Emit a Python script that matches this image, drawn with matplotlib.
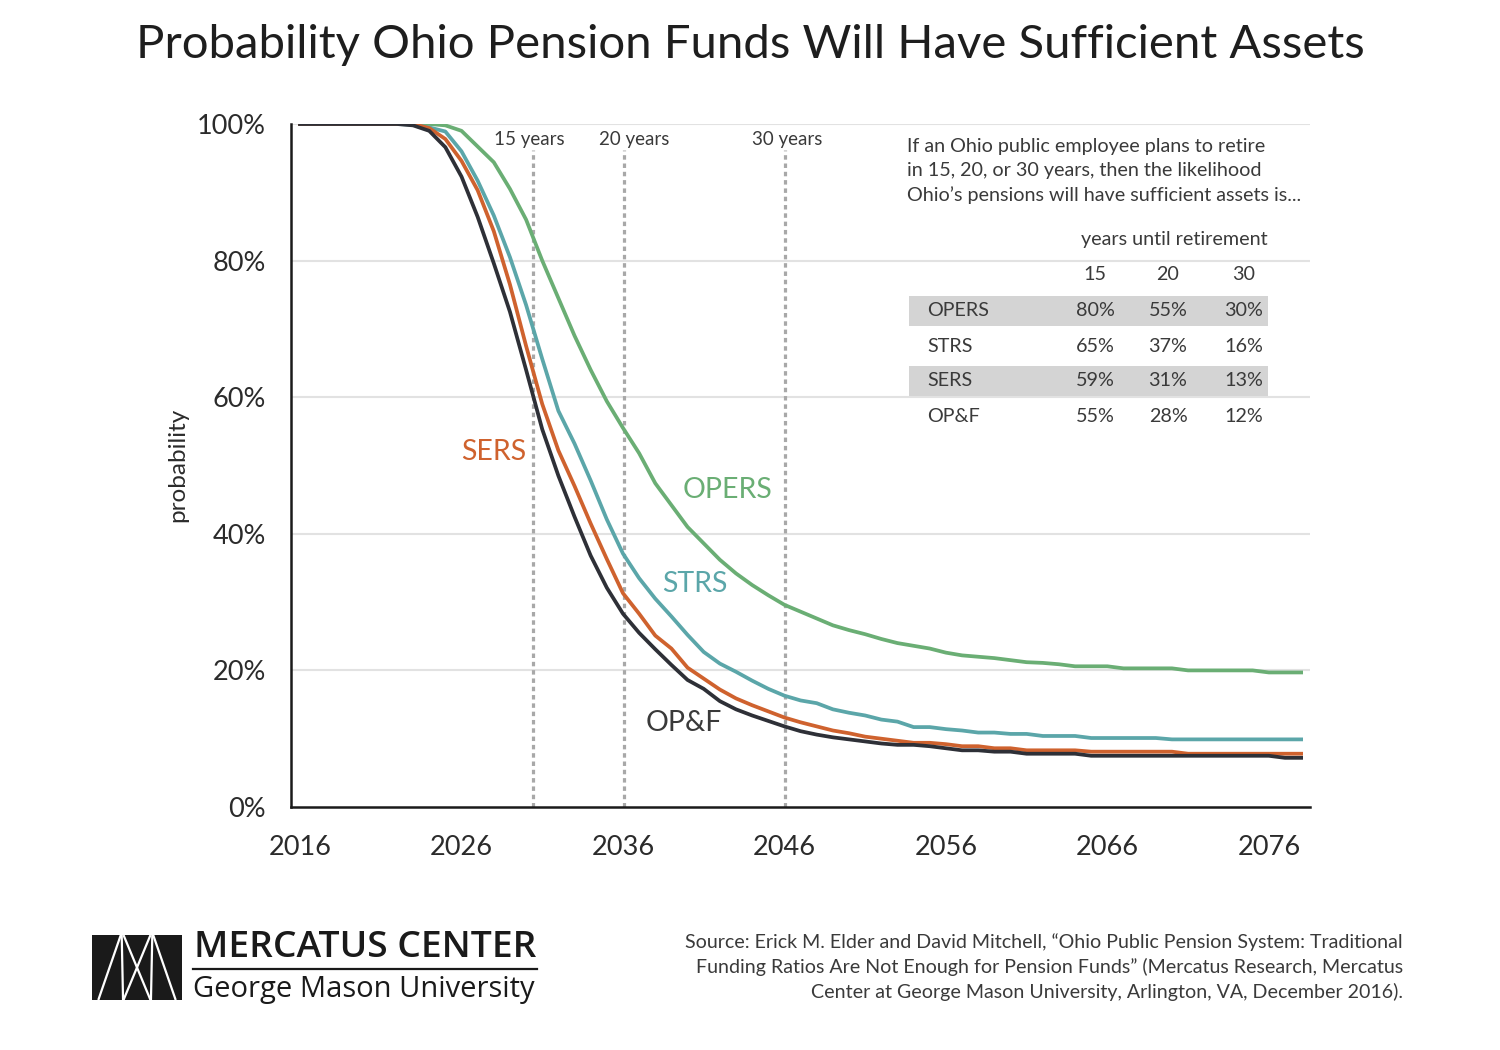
import numpy as np
import matplotlib
matplotlib.use("Agg")
import matplotlib.pyplot as plt
from matplotlib.patches import Rectangle

# ---- data (probability, %) ----
years = np.arange(2016, 2079)

opers = [100] * 9 + [
    99.8, 99.0, 96.7, 94.4, 90.5, 86.0, 80.0, 74.5, 69.0, 64.0,
    59.4, 55.5, 51.8, 47.4, 44.2, 41.0, 38.6, 36.2, 34.2, 32.5,
    31.0, 29.6, 28.6, 27.6, 26.6, 25.9, 25.3, 24.6, 24.0, 23.6,
    23.2, 22.6, 22.2, 22.0, 21.8, 21.5, 21.2, 21.1, 20.9, 20.6,
    20.6, 20.6, 20.3, 20.3, 20.3, 20.3, 20.0, 20.0, 20.0, 20.0,
    20.0, 19.7, 19.7, 19.7,
]
strs = [100] * 7 + [
    99.9, 99.5, 98.9, 96.0, 91.7, 86.6, 80.5, 73.5, 65.6, 58.0,
    53.2, 47.8, 42.1, 37.1, 33.5, 30.5, 27.9, 25.2, 22.7, 21.0,
    19.8, 18.5, 17.3, 16.3, 15.6, 15.2, 14.3, 13.8, 13.4, 12.8,
    12.5, 11.7, 11.7, 11.4, 11.2, 10.9, 10.9, 10.7, 10.7, 10.4,
    10.4, 10.4, 10.1, 10.1, 10.1, 10.1, 10.1, 9.9,
] + [9.9] * 8
sers = [100] * 8 + [
    99.4, 97.8, 94.6, 90.3, 84.3, 76.5, 67.5, 59.0, 52.2, 47.0,
    41.5, 36.3, 31.3, 28.3, 25.1, 23.2, 20.4, 18.8, 17.2, 15.9,
    14.9, 14.0, 13.1, 12.4, 11.8, 11.2, 10.8, 10.3, 10.0, 9.7,
    9.4, 9.4, 9.2, 8.9, 8.9, 8.6, 8.6, 8.3, 8.3, 8.3,
    8.3, 8.1,
] + [8.1] * 5 + [7.8] * 8
opf = [100] * 7 + [
    99.8, 99.0, 96.6, 92.3, 86.4, 79.6, 72.5, 64.0, 55.3, 48.5,
    42.5, 36.8, 32.1, 28.3, 25.5, 23.1, 20.8, 18.6, 17.3, 15.5,
    14.3, 13.4, 12.6, 11.8, 11.1, 10.6, 10.2, 9.9, 9.6, 9.3,
    9.1, 9.1, 8.9, 8.6, 8.3, 8.3, 8.1, 8.1, 7.8, 7.8,
    7.8, 7.8, 7.5,
] + [7.5] * 11 + [7.2, 7.2]

# retirement horizons (dotted markers) and the summary table
horizon_labels = ["15 years", "20 years", "30 years"]
horizon_years = [2030.45, 2036.05, 2046.05]
table_cols = ["15", "20", "30"]
table_rows = ["OPERS", "STRS", "SERS", "OP&F"]
table_15 = [80, 65, 59, 55]
table_20 = [55, 37, 31, 28]
table_30 = [30, 16, 13, 12]

ytick_vals = [0, 20, 40, 60, 80, 100]
xtick_vals = [2016, 2026, 2036, 2046, 2056, 2066, 2076]

GREEN = "#6aae74"
TEAL = "#5ba6a9"
ORANGE = "#cf622e"
DARK = "#2e3037"
TXT = "#2b2b2b"
SOFT = "#3a3a3a"

W, H = 1500, 1050
plt.rcParams["font.family"] = ["Lato", "DejaVu Sans"]


def fx(x):
    return x / W


def fy(y):
    return 1 - y / H


fig = plt.figure(figsize=(15, 10.5), dpi=100)
ax = fig.add_axes([fx(291), fy(807), (1310 - 291) / W, (807 - 124) / H])

ax.set_xlim(2015.44, 2078.55)
ax.set_ylim(0, 100)

for v in ytick_vals[1:]:
    ax.axhline(v, color="#e2e2e2", lw=1.5, zorder=0)

for yr in horizon_years:
    ax.vlines(yr, 0, 96.2, colors="#a8a8a8", lw=2.3,
              linestyles=(0, (1.4, 1.2)), zorder=1)
for lab, yr in zip(horizon_labels, [2030.2, 2036.7, 2046.2]):
    ax.text(yr, 97.7, lab, ha="center", va="center", fontsize=13.5,
            color=SOFT)

ax.plot(years, opers, color=GREEN, lw=2.7, zorder=3)
ax.plot(years, strs, color=TEAL, lw=2.7, zorder=3)
ax.plot(years, sers, color=ORANGE, lw=2.7, zorder=3)
ax.plot(years, opf, color=DARK, lw=2.7, zorder=3)

ax.text(2026.0, 52.0, "SERS", color=ORANGE, fontsize=20.5, va="center")
ax.text(2039.7, 46.4, "OPERS", color=GREEN, fontsize=20.5, va="center")
ax.text(2038.4, 32.6, "STRS", color=TEAL, fontsize=20.5, va="center")
ax.text(2037.4, 12.3, "OP&F", color=SOFT, fontsize=20.5, va="center")

for side in ["top", "right"]:
    ax.spines[side].set_visible(False)
for side in ["left", "bottom"]:
    ax.spines[side].set_linewidth(1.8)
    ax.spines[side].set_color("#1a1a1a")

ax.set_yticks(ytick_vals)
ax.set_yticklabels([f"{v}%" for v in ytick_vals])
ax.set_xticks(xtick_vals)
ax.set_xticklabels([str(v) for v in xtick_vals])
ax.tick_params(length=0, labelsize=19.5, labelcolor=TXT)
ax.tick_params(axis="y", pad=18)
ax.tick_params(axis="x", pad=20)

fig.text(fx(178), fy(465), "probability", rotation=90, ha="center",
         va="center", fontsize=17.5, color=TXT)

fig.text(0.5, fy(45), "Probability Ohio Pension Funds Will Have Sufficient Assets",
         ha="center", va="center", fontsize=34, color="#1e1e1e")

# ---- summary table ----
intro = ("If an Ohio public employee plans to retire\n"
         "in 15, 20, or 30 years, then the likelihood\n"
         "Ohio\u2019s pensions will have sufficient assets is...")
fig.text(fx(907), fy(171), intro, ha="left", va="center", fontsize=14.2,
         color=SOFT, linespacing=1.5)
fig.text(fx(1268), fy(240), "years until retirement", ha="right",
         va="center", fontsize=14.2, color=SOFT)

col_x = [1095, 1168, 1244]
row_y = [311, 346, 381, 416]
for cx, lab in zip(col_x, table_cols):
    fig.text(fx(cx), fy(275), lab, ha="center", va="center",
             fontsize=14.2, color=SOFT)

for i in [0, 2]:
    fig.add_artist(Rectangle((fx(909), fy(row_y[i] + 15)), (1268 - 909) / W,
                             30 / H, transform=fig.transFigure,
                             facecolor="#d4d4d4", edgecolor="none", zorder=1))

for i, name in enumerate(table_rows):
    fig.text(fx(927), fy(row_y[i]), name, ha="left", va="center",
             fontsize=14.2, color=SOFT, zorder=2)
    for cx, vals in zip(col_x, [table_15, table_20, table_30]):
        fig.text(fx(cx), fy(row_y[i]), f"{vals[i]}%", ha="center",
                 va="center", fontsize=14.2, color=SOFT, zorder=2)

# ---- Mercatus logo ----
lax = fig.add_axes([fx(92), fy(1000), 90 / W, 65 / H])
lax.set_xlim(0, 1)
lax.set_ylim(0, 1)
lax.axis("off")
lax.add_patch(Rectangle((0, 0), 1, 1, facecolor="#1a1a1a", edgecolor="none"))
logo_lines = [
    ((0.07, 0.0), (0.32, 1.0)), ((0.33, 1.0), (0.345, 0.0)),
    ((0.35, 1.0), (0.65, 0.0)), ((0.35, 0.0), (0.65, 1.0)),
    ((0.655, 0.0), (0.67, 1.0)), ((0.68, 1.0), (0.93, 0.0)),
]
for (x0, y0), (x1, y1) in logo_lines:
    lax.plot([x0, x1], [y0, y1], color="white", lw=1.6,
             solid_capstyle="butt")

fig.text(fx(194), fy(948), "MERCATUS CENTER", ha="left", va="center",
         fontsize=26.8, fontweight="semibold", color="#1a1a1a",
         family=["Open Sans", "DejaVu Sans"])
fig.add_artist(plt.Line2D([fx(193), fx(537)], [fy(969), fy(969)],
                          color="#1a1a1a", lw=1.6))
fig.text(fx(193), fy(989), "George Mason University", ha="left",
         va="center", fontsize=21, fontweight="normal", color="#1a1a1a",
         family=["Open Sans", "DejaVu Sans"])

source = ("Source: Erick M. Elder and David Mitchell, \u201cOhio Public Pension System: Traditional\n"
          "Funding Ratios Are Not Enough for Pension Funds\u201d (Mercatus Research, Mercatus\n"
          "Center at George Mason University, Arlington, VA, December 2016).")
fig.text(fx(1403), fy(967), source, ha="right", va="center", fontsize=14.1,
         color=SOFT, linespacing=1.45, multialignment="right")

fig.savefig("out.png", dpi=100, facecolor="white")
